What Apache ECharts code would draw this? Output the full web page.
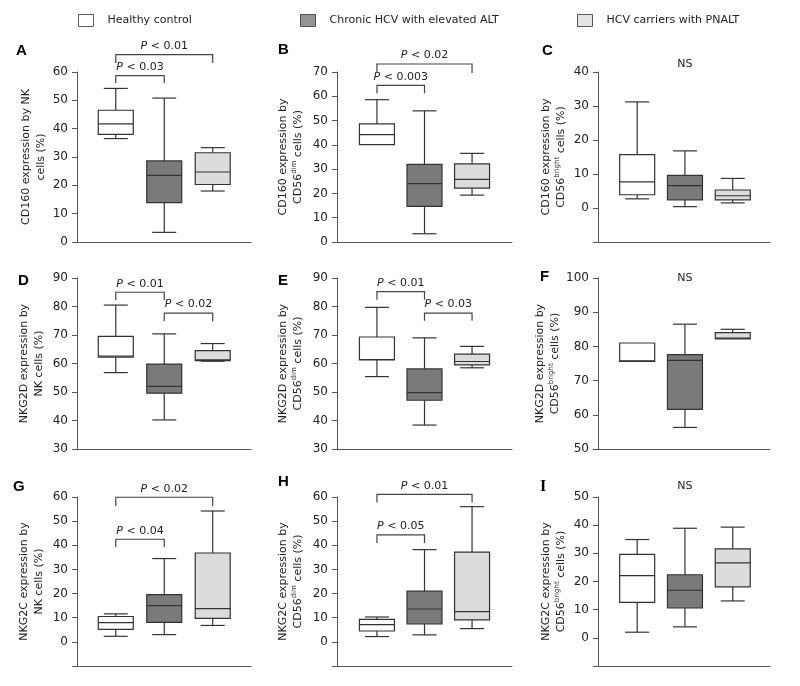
<!DOCTYPE html>
<html><head><meta charset="utf-8">
<script src="https://cdn.jsdelivr.net/npm/echarts@6/dist/echarts.min.js"></script>
<style>html,body{margin:0;padding:0;background:#fff}#c{width:800px;height:686px}</style>
</head><body><div id="c"></div>
<script>
const groups = ['Healthy control', 'Chronic HCV with elevated ALT', 'HCV carriers with PNALT'];
// each box: [min, Q1, median, Q3, max]
const boxA = [[36.5, 38.0, 41.7, 46.5, 54.2], [3.4, 13.9, 23.5, 28.6, 50.8], [18.0, 20.3, 24.7, 31.5, 33.3]];
const boxB = [[40.1, 40.1, 44.2, 48.6, 58.6], [3.4, 14.7, 24.0, 32.0, 54.0], [19.3, 22.2, 25.8, 32.2, 36.5]];
const boxC = [[2.7, 3.9, 7.7, 15.7, 31.2], [0.4, 2.4, 6.6, 9.6, 16.8], [1.5, 2.4, 3.6, 5.3, 8.7]];
const boxD = [[56.8, 62.2, 62.6, 69.5, 80.5], [40.2, 49.6, 52.0, 59.8, 70.4], [60.8, 61.0, 61.3, 64.5, 67.0]];
const boxE = [[55.4, 61.3, 61.4, 69.3, 79.7], [38.4, 47.1, 49.8, 58.1, 69.0], [58.5, 59.5, 60.7, 63.3, 66.0]];
const boxF = [[75.5, 75.6, 75.8, 81.0, 81.0], [56.3, 61.6, 75.9, 77.6, 86.5], [82.2, 82.2, 82.4, 84.0, 85.0]];
const boxG = [[2.3, 5.2, 8.0, 10.5, 11.6], [3.0, 8.1, 15.0, 19.6, 34.5], [6.8, 9.7, 13.8, 36.8, 54.2]];
const boxH = [[2.2, 4.5, 7.1, 9.3, 10.3], [2.9, 7.4, 13.6, 21.0, 38.2], [5.5, 9.1, 12.5, 37.2, 56.0]];
const boxI = [[2.0, 12.6, 22.1, 29.6, 34.9], [3.9, 10.6, 16.9, 22.4, 38.9], [13.1, 18.1, 26.6, 31.6, 39.3]];

// y axis: [min, max, step]
const axisA = [0, 60, 10], axisB = [0, 70, 10], axisC = [-10, 40, 10];
const axisD = [30, 90, 10], axisE = [30, 90, 10], axisF = [50, 100, 10];
const axisG = [-10, 60, 10], axisH = [-10, 60, 10], axisI = [-10, 50, 10];

// significance: [fromGroup, toGroup, level, dropTo, text]
const sigA = [[0, 1, 58.7, 56.1, 'P < 0.03'], [0, 2, 66.1, 63.2, 'P < 0.01']];
const sigB = [[0, 1, 64.5, 61.3, 'P < 0.003'], [0, 2, 73.3, 69.6, 'P < 0.02']];
const sigC = [[1, 1, 42.4, 42.4, 'NS']];
const sigD = [[0, 1, 85.0, 82.3, 'P < 0.01'], [1, 2, 77.7, 74.8, 'P < 0.02']];
const sigE = [[0, 1, 85.2, 82.4, 'P < 0.01'], [1, 2, 77.7, 75.0, 'P < 0.03']];
const sigF = [[1, 1, 100, 100, 'NS']];
const sigG = [[0, 1, 42.5, 39.3, 'P < 0.04'], [0, 2, 59.9, 56.3, 'P < 0.02']];
const sigH = [[0, 1, 44.3, 40.9, 'P < 0.05'], [0, 2, 61.1, 57.7, 'P < 0.01']];
const sigI = [[1, 1, 54.0, 54.0, 'NS']];

const letters = ['A', 'B', 'C', 'D', 'E', 'F', 'G', 'H', 'I'];
const yNames = [
  'CD160 expression by NK\ncells (%)',
  'CD160 expression by\nCD56{sup|dim} cells (%)',
  'CD160 expression by\nCD56{sup|bright} cells (%)',
  'NKG2D expression by\nNK cells (%)',
  'NKG2D expression by\nCD56{sup|dim} cells (%)',
  'NKG2D expression by\nCD56{sup|bright} cells (%)',
  'NKG2C expression by\nNK cells (%)',
  'NKG2C expression by\nCD56{sup|dim} cells (%)',
  'NKG2C expression by\nCD56{sup|bright} cells (%)'
];

const boxes = [boxA, boxB, boxC, boxD, boxE, boxF, boxG, boxH, boxI];
const axes = [axisA, axisB, axisC, axisD, axisE, axisF, axisG, axisH, axisI];
const sigs = [sigA, sigB, sigC, sigD, sigE, sigF, sigG, sigH, sigI];

// layout
const FONT = 'DejaVu Sans';
const fills = ['#ffffff', '#7a7a7a', '#dcdcdc'];
const colLeft = [77, 337, 598], colWidth = [174, 175, 172];
const rowTop = [72, 278, 497], rowHeight = [170, 171, 169];
const xRange = [[-0.8, 2.79], [-0.84, 2.84], [-0.82, 2.78]];
const nameGaps = [26, 31, 29, 30, 31, 29, 30, 31, 29];
const letterPos = [[16, 52], [278, 51], [542, 52], [18, 282], [278, 282], [540, 278], [13, 488], [278, 483], [540, 488]];
const legendLeft = [78, 300, 577];
const BOX_W = 35, CAP_W = 24;

function renderBox(params, api) {
  const x = api.value(0);
  const pMin = api.coord([x, api.value(1)]);
  const pQ1 = api.coord([x, api.value(2)]);
  const pMed = api.coord([x, api.value(3)]);
  const pQ3 = api.coord([x, api.value(4)]);
  const pMax = api.coord([x, api.value(5)]);
  const cx = pQ1[0];
  const stroke = { stroke: '#333', lineWidth: 1.2, fill: null };
  const line = (x1, y1, x2, y2) => ({ type: 'line', shape: { x1, y1, x2, y2 }, style: stroke });
  const children = [];
  if (pMax[1] < pQ3[1] - 0.5) {
    children.push(line(cx, pMax[1], cx, pQ3[1]));
    children.push(line(cx - CAP_W / 2, pMax[1], cx + CAP_W / 2, pMax[1]));
  }
  if (pMin[1] > pQ1[1] + 0.5) {
    children.push(line(cx, pQ1[1], cx, pMin[1]));
    children.push(line(cx - CAP_W / 2, pMin[1], cx + CAP_W / 2, pMin[1]));
  }
  children.push({ type: 'rect', shape: { x: cx - BOX_W / 2, y: pQ3[1], width: BOX_W, height: pQ1[1] - pQ3[1] },
    style: { fill: fills[params.dataIndex], stroke: '#333', lineWidth: 1.2 } });
  children.push(line(cx - BOX_W / 2, pMed[1], cx + BOX_W / 2, pMed[1]));
  return { type: 'group', children };
}

const grid = [], xAxis = [], yAxis = [], series = [], graphic = [];
for (let p = 0; p < 9; p++) {
  const r = Math.floor(p / 3), c = p % 3;
  grid.push({ left: colLeft[c], top: rowTop[r], width: colWidth[c], height: rowHeight[r], containLabel: false });
  xAxis.push({
    type: 'value', gridIndex: p, min: xRange[c][0], max: xRange[c][1],
    axisLine: { onZero: false, lineStyle: { color: '#555', width: 1 } },
    axisTick: { show: false }, axisLabel: { show: false }, splitLine: { show: false }
  });
  const ax = axes[p];
  yAxis.push({
    type: 'value', gridIndex: p, min: ax[0], max: ax[1], interval: ax[2],
    axisLine: { show: true, onZero: false, lineStyle: { color: '#555', width: 1 } },
    axisTick: { show: true, length: 5, lineStyle: { color: '#555' } },
    axisLabel: { margin: 9, color: '#222', fontFamily: FONT, fontSize: 12, formatter: v => v < 0 ? '' : String(v) },
    splitLine: { show: false },
    name: yNames[p], nameLocation: 'middle', nameGap: nameGaps[p],
    nameTextStyle: { fontFamily: FONT, fontSize: 11, color: '#222', lineHeight: 15,
      rich: { sup: { fontFamily: FONT, fontSize: 7, color: '#222', verticalAlign: 'top', lineHeight: 15 } } }
  });
  series.push({
    type: 'custom', name: 'box' + letters[p], xAxisIndex: p, yAxisIndex: p, silent: true,
    encode: { x: 0, y: [1, 2, 3, 4, 5] },
    data: boxes[p].map((b, i) => [i].concat(b)),
    renderItem: renderBox
  });
  const sig = sigs[p];
  series.push({
    type: 'custom', xAxisIndex: p, yAxisIndex: p, clip: false, silent: true,
    encode: { x: [0, 1], y: [2, 3] },
    data: sig.map(s => [s[0], s[1], s[2], s[3]]),
    renderItem: (params, api) => {
      const s = sig[params.dataIndex];
      const a = api.coord([api.value(0), api.value(2)]);
      const b = api.coord([api.value(1), api.value(2)]);
      const da = api.coord([api.value(0), api.value(3)]);
      const mid = (a[0] + b[0]) / 2;
      const children = [];
      const isNS = api.value(0) === api.value(1);
      if (!isNS) {
        children.push({ type: 'polyline', shape: { points: [[a[0], da[1]], [a[0], a[1]], [b[0], b[1]], [b[0], da[1]]] },
          style: { stroke: '#444', lineWidth: 1.2, fill: null } });
      }
      const txt = s[4].indexOf('P') === 0 ? '{i|P}' + s[4].slice(1) : s[4];
      children.push({ type: 'text', x: mid, y: isNS ? a[1] : a[1] - 3,
        style: { text: txt, fontFamily: FONT, fontSize: 11, fill: '#222', align: 'center',
          verticalAlign: isNS ? 'middle' : 'bottom',
          rich: { i: { fontFamily: FONT, fontSize: 11, fontStyle: 'italic', fill: '#222' } } } });
      return { type: 'group', children };
    }
  });
  const lp = letterPos[p];
  graphic.push({ type: 'text', left: lp[0], top: lp[1] - 9,
    style: { text: letters[p], fill: '#000',
      font: letters[p] === 'I' ? 'bold 16px "Liberation Serif"' : 'bold 15px "Liberation Sans"' } });
}
// legend carrier series (no data)
groups.forEach((g, i) => series.push({ type: 'scatter', name: g, xAxisIndex: 0, yAxisIndex: 0, data: [], itemStyle: { color: fills[i] } }));

const legend = groups.map((g, i) => ({
  left: legendLeft[i], top: 14, padding: 0, selectedMode: false,
  itemWidth: 15, itemHeight: 12,
  data: [{ name: g, icon: 'rect', itemStyle: { color: fills[i], borderColor: '#333', borderWidth: 1 } }],
  textStyle: { fontFamily: FONT, fontSize: 11, color: '#222', padding: [0, 0, 0, 9] }
}));

const chart = echarts.init(document.getElementById('c'), null, { renderer: 'canvas' });
chart.setOption({ animation: false, backgroundColor: '#fff', grid, xAxis, yAxis, series, legend, graphic });
</script></body></html>
